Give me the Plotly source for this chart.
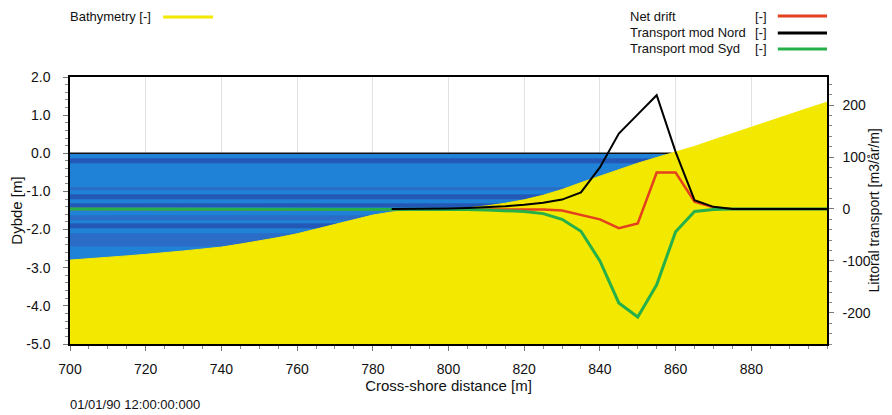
import plotly.graph_objects as go

# cross-shore distance [m]
dist = [700, 705, 710, 715, 720, 725, 730, 735, 740, 745, 750, 755, 760, 765, 770,
        775, 780, 785, 790, 795, 800, 805, 810, 815, 820, 825, 830, 835, 840, 845,
        850, 855, 860, 865, 870, 875, 880, 885, 890, 895, 900]

# bed level [m]
bathymetry = [-2.80, -2.77, -2.73, -2.69, -2.65, -2.61, -2.56, -2.51, -2.46, -2.38,
              -2.30, -2.21, -2.11, -1.99, -1.86, -1.74, -1.62, -1.54, -1.50, -1.49,
              -1.47, -1.43, -1.38, -1.31, -1.22, -1.10, -0.95, -0.77, -0.60, -0.42,
              -0.26, -0.11, 0.03, 0.18, 0.35, 0.52, 0.68, 0.85, 1.02, 1.18, 1.34]

# littoral transport [m3/år/m]
net_drift = [0] * 23 + [0, 0, -1, -3, -11, -20, -37, -28, 70, 70, 14, 3] + [0] * 6
transport_nord = [None] * 17 + [0, 0, 0, 1, 2, 3, 5, 8, 12, 18, 32, 80, 145, 182,
                                219, 110, 17, 4] + [0] * 6
transport_syd = [0] * 20 + [-1, -1, -2, -3, -5, -9, -20, -43, -100, -181, -208,
                            -146, -44, -5, -1] + [0] * 6

# banded shading of the water column (depth edges, shade class per band)
stripe_edges = [0.0, -0.12, -0.26, -0.88, -0.98, -1.08, -1.20, -1.30, -1.42,
                -1.62, -1.76, -1.84, -1.97, -2.10, -2.45, -3.0]
stripe_shade = [0, 1, 0, 0.5, 0, 1, 0, 1, 0, 0.5, 0, 1, 0, 0.5, 0]

x_ticks = [700, 720, 740, 760, 780, 800, 820, 840, 860, 880]
y_ticks = [2, 1, 0, -1, -2, -3, -4, -5]
y_tick_text = ["2.0", "1.0", "0.0", "-1.0", "-2.0", "-3.0", "-4.0", "-5.0"]
y2_ticks = [200, 100, 0, -100, -200]
y2_tick_text = ["200", "100", "0", "-100", "-200"]

Y_MIN, Y_MAX = -5.0, 2.0
FONT = "Liberation Sans, Arial, sans-serif"
YELLOW = "#f2e800"
RED = "#e4401e"
GREEN = "#27b04a"

fig = go.Figure()

# water column
fig.add_trace(go.Heatmap(
    x=[dist[0], dist[-1]], y=stripe_edges, z=[[s] for s in stripe_shade],
    zmin=0, zmax=1, showscale=False, hoverinfo="skip",
    colorscale=[[0, "#1f82d6"], [0.5, "#2a6cc6"], [1, "#2458b6"]],
))

# water surface
dry = next(i for i, b in enumerate(bathymetry) if b >= 0)
fig.add_trace(go.Scatter(
    x=dist[:dry] + [dist[dry - 1] + (dist[dry] - dist[dry - 1]) *
                    (-bathymetry[dry - 1]) / (bathymetry[dry] - bathymetry[dry - 1])],
    y=[0] * (dry + 1), mode="lines", line=dict(color="#111", width=1.5),
))

# bathymetry
fig.add_trace(go.Scatter(
    x=dist + [dist[-1], dist[0]], y=bathymetry + [Y_MIN, Y_MIN],
    fill="toself", fillcolor=YELLOW, mode="lines",
    line=dict(color=YELLOW, width=1),
))

fig.add_trace(go.Scatter(x=dist, y=net_drift, yaxis="y2", mode="lines",
                         line=dict(color=RED, width=2.5)))
fig.add_trace(go.Scatter(x=dist, y=transport_syd, yaxis="y2", mode="lines",
                         line=dict(color=GREEN, width=3)))
fig.add_trace(go.Scatter(x=dist, y=transport_nord, yaxis="y2", mode="lines",
                         line=dict(color="#000", width=2)))

axis_common = dict(showline=True, linecolor="#000", linewidth=1.5, ticks="outside",
                   ticklen=5, tickcolor="#777", zeroline=False, automargin=False,
                   tickfont=dict(family=FONT, size=14, color="#111"))

# the page adds an 8px body margin, so the figure is drawn 8px smaller
fig.update_layout(
    width=884, height=407,
    margin=dict(l=62, r=65, t=69, b=71),
    paper_bgcolor="white", plot_bgcolor="white",
    showlegend=False,
    font=dict(family=FONT, color="#111"),
    xaxis=dict(range=[700, 900], tickvals=x_ticks, mirror=True, showgrid=True,
               gridcolor="#e2e2e2", ticklabelstandoff=6,
               minor=dict(ticks="outside", ticklen=3, dtick=5, tick0=700,
                          tickcolor="#888", showgrid=False),
               title=dict(text="Cross-shore distance [m]", standoff=4,
                          font=dict(family=FONT, size=15)),
               **axis_common),
    yaxis=dict(range=[Y_MIN, Y_MAX], tickvals=y_ticks, ticktext=y_tick_text,
               mirror=True, showgrid=False, ticklabelstandoff=10,
               minor=dict(ticks="outside", ticklen=3, dtick=0.2, tick0=0,
                          tickcolor="#888", showgrid=False),
               title=dict(text="Dybde [m]", standoff=2,
                          font=dict(family=FONT, size=15)),
               **axis_common),
    yaxis2=dict(overlaying="y", side="right", range=[-260, 254], tickvals=y2_ticks,
                ticktext=y2_tick_text, showgrid=False, ticklabelstandoff=6,
                minor=dict(ticks="outside", ticklen=3, dtick=20, tick0=0,
                           tickcolor="#888", showgrid=False),
                **axis_common),
)

# right axis title, placed by hand so it sits close to the page edge
fig.add_annotation(x=1.062, y=0.5, xref="paper", yref="paper", xanchor="center",
                   yanchor="middle", textangle=-90, showarrow=False,
                   text="Littoral transport [m3/år/m]",
                   font=dict(family=FONT, size=14, color="#111"))

# legend block (label text on the left, line sample on the right)
legend_font = dict(family=FONT, size=13, color="#111")
fig.add_annotation(x=-0.003, y=1.225, xref="paper", yref="paper", xanchor="left",
                   yanchor="middle", text="Bathymetry [-]", showarrow=False,
                   font=legend_font)
fig.add_shape(type="line", xref="paper", yref="paper", x0=0.123, x1=0.189,
              y0=1.225, y1=1.225, line=dict(color=YELLOW, width=3))

for label, color, yp in [("Net drift", RED, 1.228),
                         ("Transport mod Nord", "#000", 1.165),
                         ("Transport mod Syd", GREEN, 1.105)]:
    fig.add_annotation(x=0.737, y=yp, xref="paper", yref="paper", xanchor="left",
                       yanchor="middle", text=label, showarrow=False, font=legend_font)
    fig.add_annotation(x=0.902, y=yp, xref="paper", yref="paper", xanchor="left",
                       yanchor="middle", text="[-]", showarrow=False, font=legend_font)
    fig.add_shape(type="line", xref="paper", yref="paper", x0=0.935, x1=1.0,
                  y0=yp, y1=yp, line=dict(color=color, width=3))

fig.add_annotation(x=-0.003, y=-0.225, xref="paper", yref="paper", xanchor="left",
                   yanchor="middle", text="01/01/90 12:00:00:000", showarrow=False,
                   font=dict(family=FONT, size=13, color="#111"))

fig.write_html("out.html")
